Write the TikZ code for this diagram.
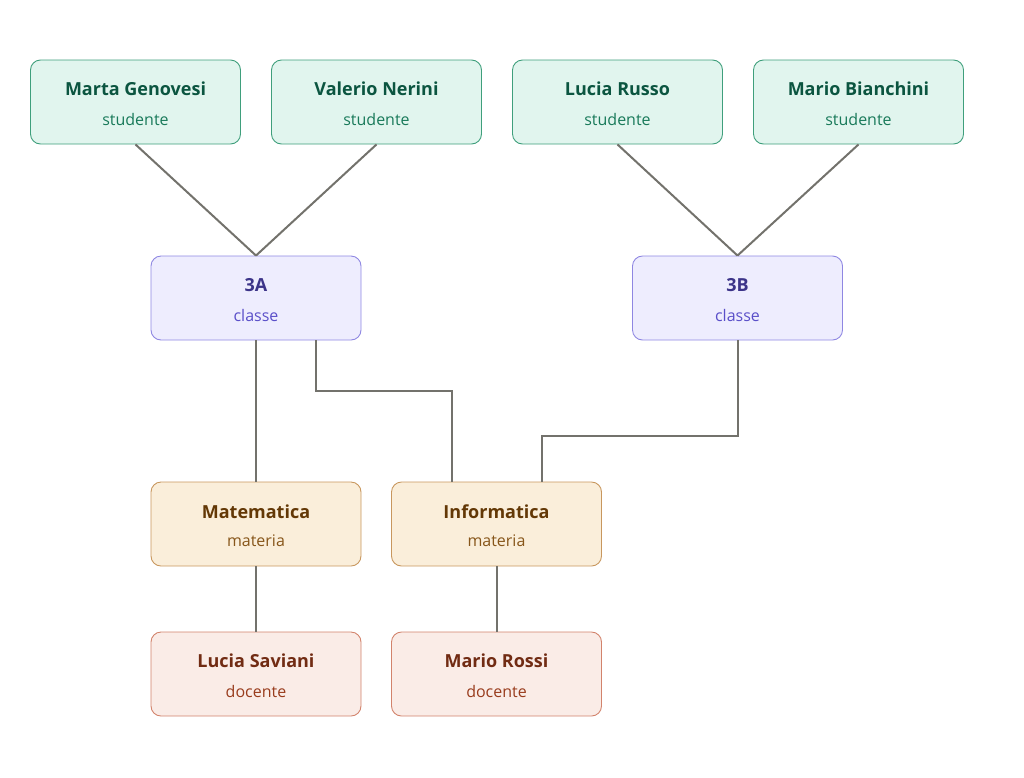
\documentclass[tikz,border=0pt]{standalone}
\usepackage{fontspec}
\setmainfont{Open Sans}
\usepackage{tikz}
\usetikzlibrary{positioning}

\definecolor{stuFill}{HTML}{E1F5EE}
\definecolor{stuLine}{HTML}{3F9F7C}
\definecolor{stuName}{HTML}{0B5540}
\definecolor{stuRole}{HTML}{197A5A}
\definecolor{clsFill}{HTML}{EEEDFE}
\definecolor{clsLine}{HTML}{8F87E2}
\definecolor{clsName}{HTML}{3C3489}
\definecolor{clsRole}{HTML}{5A4FC9}
\definecolor{subFill}{HTML}{FAEEDA}
\definecolor{subLine}{HTML}{C8975E}
\definecolor{subName}{HTML}{633806}
\definecolor{subRole}{HTML}{87561A}
\definecolor{docFill}{HTML}{FAECE7}
\definecolor{docLine}{HTML}{D2836C}
\definecolor{docName}{HTML}{712B13}
\definecolor{docRole}{HTML}{993C1D}
\definecolor{wire}{HTML}{73726C}

\newcommand{\card}[3]{%
  {\color{#1Name}\fontsize{18}{12}\selectfont\bfseries\rule{0pt}{17pt}#2}\\[16pt]%
  {\color{#1Role}\fontsize{16}{12}\selectfont #3}}

\begin{document}
\begin{tikzpicture}[x=1pt,y=-1pt,thick,
    box/.style={rectangle,rounded corners=10pt,minimum width=210pt,
                minimum height=84pt,align=center,line width=0.9pt,inner sep=0pt},
    stud/.style={box,fill=stuFill,draw=stuLine},
    klass/.style={box,fill=clsFill,draw=clsLine},
    subj/.style={box,fill=subFill,draw=subLine},
    teach/.style={box,fill=docFill,draw=docLine},
    wire/.style={draw=wire,line width=2pt}]
      \useasboundingbox (0,0) rectangle (1024,777);

      \node[stud]  (marta)   at (135.5,102) {\card{stu}{Marta Genovesi}{studente}};
      \node[stud]  (valerio) at (376.5,102) {\card{stu}{Valerio Nerini}{studente}};
      \node[stud]  (luciaR)  at (617.5,102) {\card{stu}{Lucia Russo}{studente}};
      \node[stud]  (marioB)  at (858.5,102) {\card{stu}{Mario Bianchini}{studente}};

      \node[klass] (c3A) at (256,298)   {\card{cls}{3A}{classe}};
      \node[klass] (c3B) at (737.5,298) {\card{cls}{3B}{classe}};

      \node[subj]  (mat) at (256,524)   {\card{sub}{Matematica}{materia}};
      \node[subj]  (inf) at (496.5,524) {\card{sub}{Informatica}{materia}};

      \node[teach] (luciaS) at (256,674)   {\card{doc}{Lucia Saviani}{docente}};
      \node[teach] (marioR) at (496.5,674) {\card{doc}{Mario Rossi}{docente}};

      % studenti -> classi
      \path[wire] (marta.south) -- (c3A.north)
                  (valerio.south) -- (c3A.north)
                  (luciaR.south) -- (c3B.north)
                  (marioB.south) -- (c3B.north);

      % classi -> materie
      \path[wire] (c3A.south) -- (mat.north);
      \path[wire] ([xshift=60pt]c3A.south) |- (452,391) -- ([xshift=-44.5pt]inf.north);
      \path[wire] (c3B.south) |- (542,436) -- ([xshift=45.5pt]inf.north);

      % materie -> docenti
      \path[wire] (mat.south) -- (luciaS.north)
                  (inf.south) -- (marioR.north);
    \end{tikzpicture}
\end{document}
